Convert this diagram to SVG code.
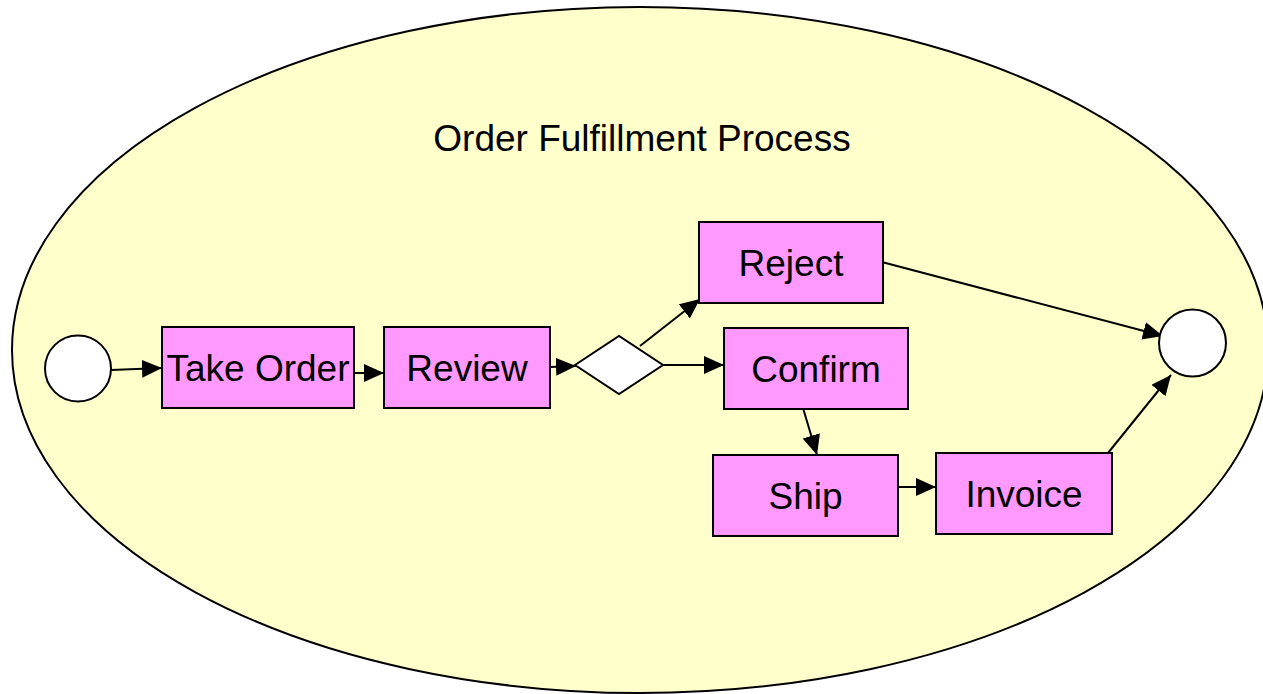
<svg xmlns="http://www.w3.org/2000/svg" width="1263" height="694" viewBox="0 0 1263 694">
<style>
.bg{fill:#FFFFCC;stroke:#000;stroke-width:2}
.task{fill:#FF99FF;stroke:#000;stroke-width:2}
.ev{fill:#FFFFFF;stroke:#000;stroke-width:2}
.lbl{font-family:"Liberation Sans",Arial,sans-serif;font-size:37px;fill:#000;text-anchor:middle}
.edge{stroke:#000;stroke-width:2;fill:none;marker-end:url(#arr)}
</style>
<defs>
<marker id="arr" markerUnits="userSpaceOnUse" markerWidth="22" markerHeight="20" refX="20" refY="9" orient="auto">
<path d="M0,0 L20,9 L0,18 Z" fill="#000"/>
</marker>
</defs>
<rect width="1263" height="694" fill="#FFFFFF"/>
<g id="process">
<ellipse class="bg" cx="640" cy="350" rx="628" ry="343"/>
<text class="lbl" x="642" y="151">Order Fulfillment Process</text>
</g>
<g id="connectors">
<line class="edge" x1="111" y1="370" x2="162" y2="368"/>
<line class="edge" x1="354" y1="373" x2="384" y2="373"/>
<line class="edge" x1="550" y1="367" x2="576" y2="366"/>
<line class="edge" x1="640" y1="346" x2="700" y2="299"/>
<line class="edge" x1="663" y1="365" x2="724" y2="365"/>
<line class="edge" x1="878" y1="261" x2="1163" y2="336"/>
<line class="edge" x1="803" y1="408" x2="817" y2="455"/>
<line class="edge" x1="898" y1="487" x2="936" y2="487"/>
<line class="edge" x1="1108" y1="453" x2="1171" y2="375"/>
</g>
<g id="start"><circle class="ev" cx="78" cy="368.5" r="33"/></g>
<g id="take-order"><rect class="task" x="162" y="327" width="192" height="81"/><text class="lbl" x="258" y="380.5">Take Order</text></g>
<g id="review"><rect class="task" x="384" y="327" width="166" height="81"/><text class="lbl" x="467" y="380.5">Review</text></g>
<g id="gateway"><polygon class="ev" points="575,365 619,336 663,365 619,394"/></g>
<g id="reject"><rect class="task" x="699" y="222" width="184" height="81"/><text class="lbl" x="791" y="275.5">Reject</text></g>
<g id="confirm"><rect class="task" x="724" y="328" width="184" height="81"/><text class="lbl" x="816" y="381.5">Confirm</text></g>
<g id="ship"><rect class="task" x="713" y="455" width="185" height="81"/><text class="lbl" x="805.5" y="508.5">Ship</text></g>
<g id="invoice"><rect class="task" x="936" y="453" width="176" height="81"/><text class="lbl" x="1024" y="506.5">Invoice</text></g>
<g id="end"><circle class="ev" cx="1192.5" cy="343" r="33.5"/></g>
</svg>
